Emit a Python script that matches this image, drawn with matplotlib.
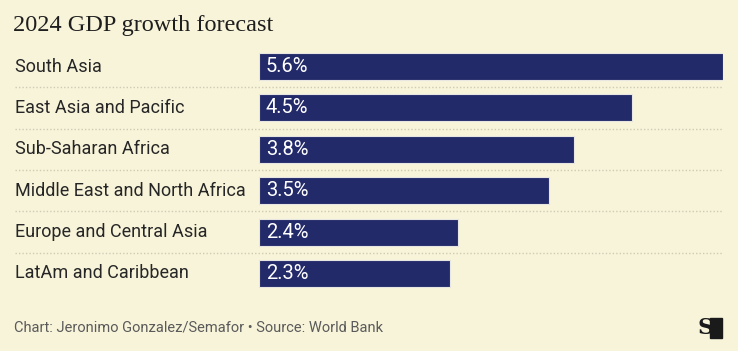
import matplotlib
matplotlib.use("Agg")
import matplotlib.pyplot as plt
from matplotlib.transforms import blended_transform_factory
from matplotlib.patches import Rectangle

categories = ["South Asia", "East Asia and Pacific", "Sub-Saharan Africa",
              "Middle East and North Africa", "Europe and Central Asia",
              "LatAm and Caribbean"]
values = [5.6, 4.5, 3.8, 3.5, 2.4, 2.3]
value_labels = ["5.6%", "4.5%", "3.8%", "3.5%", "2.4%", "2.3%"]
title = "2024 GDP growth forecast"
footer = "Chart: Jeronimo Gonzalez/Semafor \u2022 Source: World Bank"

BG = "#f8f4da"
BAR = "#232a6a"
W, H = 738, 351

fig = plt.figure(figsize=(W / 100, H / 100), dpi=100, facecolor=BG)
top_px, bot_px = 45.85, 294.15
left_px, right_px = 259, 723
ax = fig.add_axes([left_px / W, 1 - bot_px / H, (right_px - left_px) / W, (bot_px - top_px) / H])
ax.set_facecolor(BG)
ax.patch.set_alpha(0)
ax.set_xlim(0, 5.6)
ax.set_ylim(len(categories) - 0.5, -0.5)
ax.axis("off")

ypos = list(range(len(categories)))
ax.barh(ypos, values, height=0.65, color=BAR, edgecolor="#e8e6e0", linewidth=0.8, zorder=3)

tr = blended_transform_factory(fig.transFigure, ax.transData)
for i in range(len(categories) - 1):
    ax.plot([15 / W, 723 / W], [i + 0.5, i + 0.5], transform=tr, color="#cfcab4",
            linestyle=(0, (1, 1.5)), linewidth=1.0, clip_on=False)

lab_font = "Roboto"
for i, (c, v, vl) in enumerate(zip(categories, values, value_labels)):
    ax.text(15 / W, i, c, transform=tr, ha="left", va="center", fontsize=13,
            family=lab_font, color="#262626")
    ax.annotate(vl, xy=(0, i), xytext=(7, 0), textcoords="offset pixels",
                ha="left", va="center", fontsize=14.5, family=lab_font, color="white", zorder=4)

fig.text(13 / W, 1 - 26 / H, title, ha="left", va="center", fontsize=17.5,
         family="Liberation Serif", color="#1e1e1e")
fig.text(14 / W, 1 - 328 / H, footer, ha="left", va="center", fontsize=10.5,
         family=lab_font, color="#5a5a5a")

# logo
fig.patches.append(Rectangle((710 / W, 1 - 338 / H), 12 / W, 20 / H, transform=fig.transFigure,
                             color="#1a1a1a"))
fig.text(706 / W, 1 - 328 / H, "S", ha="center", va="center", fontsize=16, weight="bold",
         family="DejaVu Serif", color="#1a1a1a")

fig.savefig("out.png", dpi=100, facecolor=BG)
